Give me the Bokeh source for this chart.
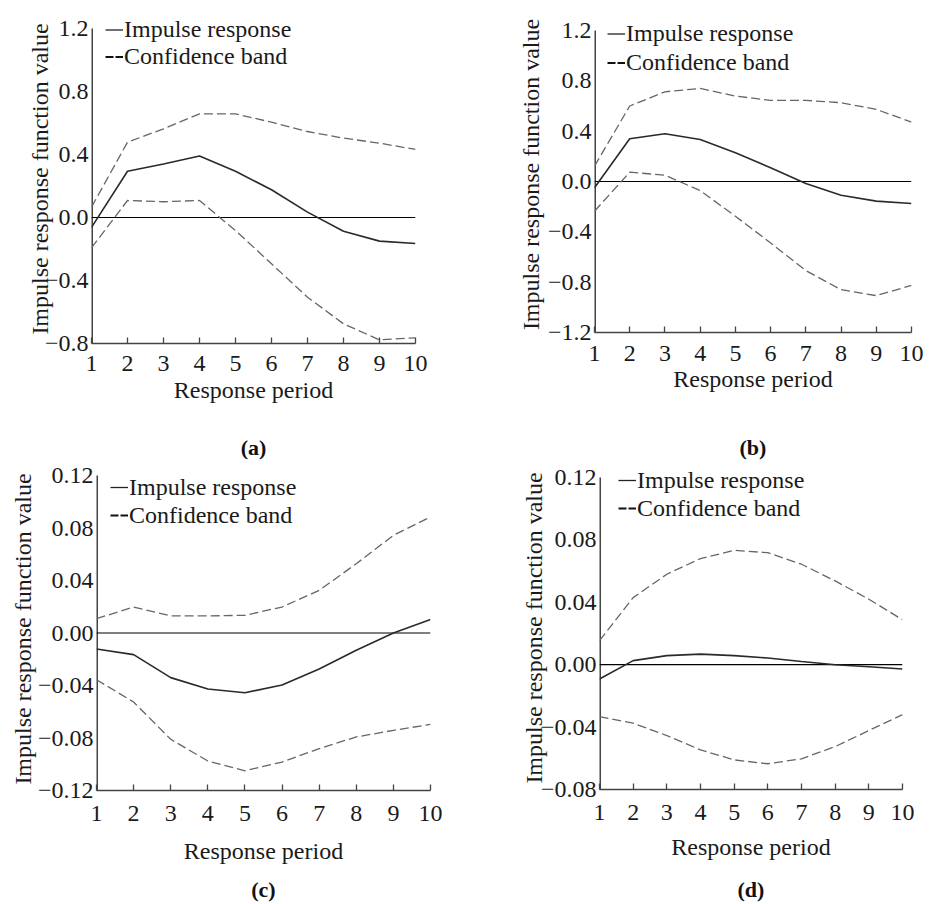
import math
from bokeh.plotting import figure
from bokeh.layouts import column, row
from bokeh.models import Range1d, FixedTicker, CustomJSTickFormatter, Legend, LegendItem, LinearAxis
from bokeh.embed import file_html
from bokeh.resources import INLINE

periods = [1, 2, 3, 4, 5, 6, 7, 8, 9, 10]

a_irf = [-0.063, 0.294, 0.34, 0.39, 0.294, 0.176, 0.034, -0.087, -0.15, -0.165]
a_up = [0.066, 0.478, 0.563, 0.658, 0.658, 0.605, 0.546, 0.504, 0.472, 0.432]
a_lo = [-0.193, 0.108, 0.10, 0.108, -0.083, -0.294, -0.506, -0.675, -0.777, -0.764]
a_ticks = [-0.8, -0.4, 0.0, 0.4, 0.8, 1.2]

b_irf = [-0.05, 0.34, 0.38, 0.334, 0.228, 0.109, -0.016, -0.109, -0.156, -0.175]
b_up = [0.122, 0.60, 0.713, 0.74, 0.679, 0.645, 0.645, 0.626, 0.573, 0.472]
b_lo = [-0.236, 0.074, 0.05, -0.072, -0.276, -0.488, -0.708, -0.86, -0.907, -0.825]
b_ticks = [-1.2, -0.8, -0.4, 0.0, 0.4, 0.8, 1.2]

c_irf = [-0.0122, -0.0165, -0.034, -0.0427, -0.0455, -0.0396, -0.0274, -0.0132, 0.0, 0.0102]
c_up = [0.0109, 0.0198, 0.013, 0.013, 0.0135, 0.0198, 0.0325, 0.0528, 0.0744, 0.0884]
c_lo = [-0.0356, -0.0526, -0.081, -0.0975, -0.105, -0.0983, -0.0881, -0.0792, -0.0742, -0.0696]
c_ticks = [-0.12, -0.08, -0.04, 0.0, 0.04, 0.08, 0.12]

d_irf = [-0.0092, 0.0026, 0.0058, 0.0068, 0.0058, 0.0043, 0.0021, 0.0, -0.0013, -0.0028]
d_up = [0.0154, 0.043, 0.058, 0.068, 0.0733, 0.0718, 0.0644, 0.0537, 0.042, 0.0288]
d_lo = [-0.0333, -0.0375, -0.0454, -0.0546, -0.061, -0.0635, -0.0603, -0.0525, -0.0422, -0.032]
d_ticks = [-0.08, -0.04, 0.0, 0.04, 0.08, 0.12]

FONT = "Liberation Serif"
NAN = float("nan")


def panel(irf, up, lo, yticks, decimals, caption, g):
    # g: geometry/style settings for this panel (pixels)
    frame_h = g["frame_h"]
    ext = g["ext"]
    span = yticks[-1] - yticks[0]
    y_end = yticks[-1] + ext * span / frame_h
    p = figure(width=g["w"], height=g["h"], output_backend="svg", toolbar_location=None,
               title=None,
               x_range=Range1d(periods[0], periods[-1]), y_range=Range1d(yticks[0], y_end),
               min_border_left=g["bl"], min_border_right=g["br"],
               min_border_top=g["bt"], min_border_bottom=g["bb"],
               background_fill_color="white", border_fill_color="white")
    p.outline_line_color = None
    p.grid.visible = False

    # y axis line (only up to the top tick) and zero line
    p.line(x=[periods[0], periods[0]], y=[yticks[0], yticks[-1]], line_color="#444444", line_width=3)
    p.line(x=[periods[0], periods[-1]], y=[0, 0], line_color="black", line_width=1.2)
    p.line(x=periods, y=up, line_color="#666666", line_width=1.3, line_dash="9 4")
    p.line(x=periods, y=lo, line_color="#666666", line_width=1.3, line_dash="9 4")
    p.line(x=periods, y=irf, line_color="#2a2a2a", line_width=1.6)

    # legend sample renderers (draw nothing in the plot)
    r_solid = p.line(x=[NAN], y=[NAN], line_color="#222222", line_width=1.3)
    r_dash = p.line(x=[NAN], y=[NAN], line_color="#111111", line_width=2.2, line_dash="8 2")
    lh = g["lh"]
    leg = Legend(items=[LegendItem(label="Impulse response", renderers=[r_solid]),
                        LegendItem(label="Confidence band", renderers=[r_dash])],
                 location=(g["lx"], g["ly"]), background_fill_alpha=0, border_line_color=None,
                 padding=0, margin=0, spacing=0, glyph_width=18, glyph_height=lh,
                 label_height=lh, label_standoff=1,
                 label_text_font=FONT, label_text_font_size="24px", label_text_color="#1a1a1a")
    p.add_layout(leg, "center")

    # axes
    p.xaxis.ticker = FixedTicker(ticks=periods)
    p.yaxis.ticker = FixedTicker(ticks=yticks)
    p.yaxis.formatter = CustomJSTickFormatter(
        code="return (tick < -1e-9 ? '\u2212' : '') + Math.abs(tick).toFixed(%d);" % decimals)
    for ax in (p.xaxis[0], p.yaxis[0]):
        ax.axis_line_color = "#444444"
        ax.axis_line_width = 1.5
        ax.major_tick_line_color = "#444444"
        ax.major_tick_line_width = 1.3
        ax.minor_tick_line_color = None
        ax.major_label_text_font = FONT
        ax.major_label_text_font_size = "24px"
        ax.major_label_text_color = "#1a1a1a"
        ax.axis_label_text_font = FONT
        ax.axis_label_text_font_size = "24px"
        ax.axis_label_text_font_style = "normal"
        ax.axis_label_text_color = "#1a1a1a"
    p.yaxis.axis_line_color = None
    p.xaxis.major_tick_in = 6
    p.xaxis.major_tick_out = 0
    p.xaxis.major_label_standoff = g["s1"]
    p.xaxis.axis_label = "Response period"
    p.xaxis.axis_label_standoff = g["s2"]
    p.yaxis.major_tick_in = 0
    p.yaxis.major_tick_out = 0
    p.yaxis.major_label_standoff = 3
    p.yaxis.axis_label = "Impulse response function value"
    p.yaxis.axis_label_standoff = g["sy"]

    # panel caption as an empty extra axis below
    cap = LinearAxis(ticker=FixedTicker(ticks=[]), axis_line_color=None,
                     major_tick_line_color=None, minor_tick_line_color=None,
                     major_tick_in=0, major_tick_out=0, major_label_standoff=0,
                     axis_label=caption, axis_label_standoff=g["s3"],
                     axis_label_text_font=FONT, axis_label_text_font_size="22px",
                     axis_label_text_font_style="bold", axis_label_text_color="#111111")
    p.add_layout(cap, "below")
    return p


ga = dict(w=470, h=462, bl=91, br=55, bt=14, bb=119, frame_h=315, ext=14,
          lx=14, lh=25, s1=12, s2=3, s3=29, sy=-11)
ga["ly"] = 343 - (32 - ga["lh"] / 2 + 2 * ga["lh"])
gb = dict(w=459, h=462, bl=124, br=18, bt=16, bb=130, frame_h=302, ext=14,
          lx=13, lh=29, s1=13, s2=2, s3=40, sy=1)
gb["ly"] = 332 - (33 - gb["lh"] / 2 + 2 * gb["lh"])
gc = dict(w=470, h=442, bl=96, br=40, bt=5, bb=114, frame_h=315, ext=8,
          lx=14, lh=28, s1=15, s2=14, s3=10, sy=-1)
gc["ly"] = 790 - (487 - gc["lh"] / 2 + 2 * gc["lh"])
gd = dict(w=459, h=442, bl=129, br=27, bt=4, bb=115, frame_h=312, ext=11,
          lx=19, lh=28, s1=15, s2=11, s3=14, sy=-9)
gd["ly"] = 789 - (480 - gd["lh"] / 2 + 2 * gd["lh"])

pa = panel(a_irf, a_up, a_lo, a_ticks, 1, "(a)", ga)
pb = panel(b_irf, b_up, b_lo, b_ticks, 1, "(b)", gb)
pc = panel(c_irf, c_up, c_lo, c_ticks, 2, "(c)", gc)
pd = panel(d_irf, d_up, d_lo, d_ticks, 2, "(d)", gd)

layout = column(row(column(pa), column(pb)), row(column(pc), column(pd)))
open("out.html", "w").write(file_html(layout, INLINE))
